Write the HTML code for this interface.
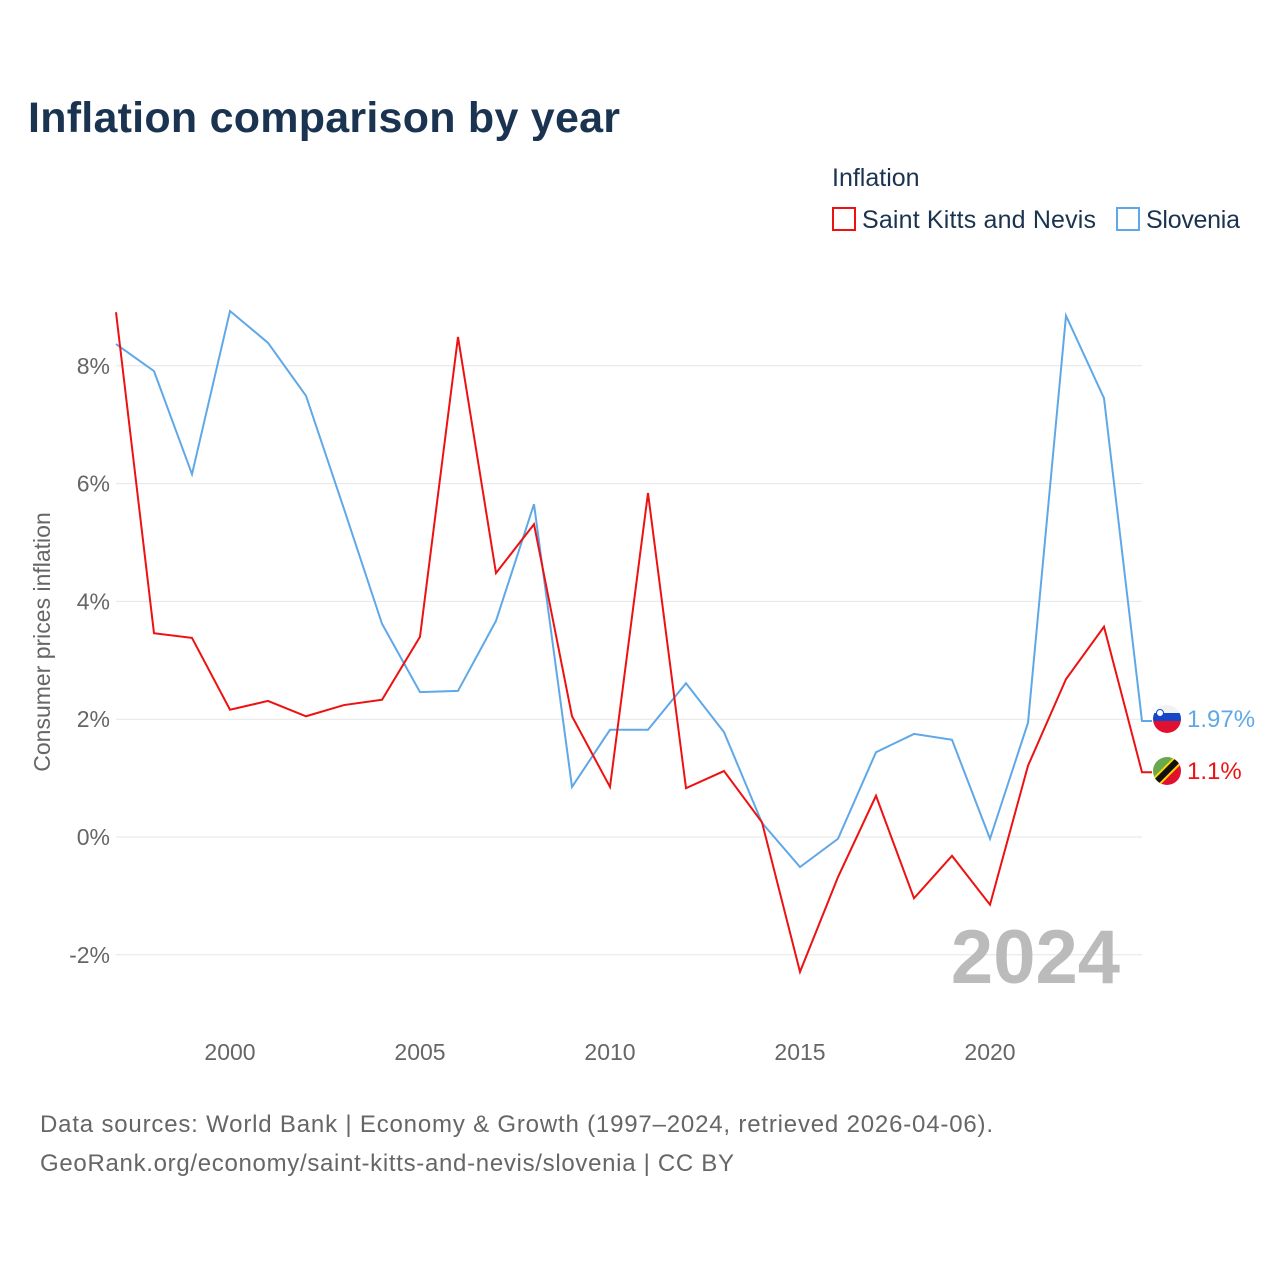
<!DOCTYPE html>
<html><head><meta charset="utf-8"><style>
body{margin:0;background:#fff;font-family:"Liberation Sans",sans-serif}
</style></head><body>
<svg width="1280" height="1280" xmlns="http://www.w3.org/2000/svg" font-family="Liberation Sans, sans-serif">
<text x="28" y="132" font-size="43" font-weight="bold" fill="#1a3350" textLength="592">Inflation comparison by year</text>
<text x="832" y="186" font-size="25" fill="#1a3350">Inflation</text>
<g><rect x="833" y="208" width="22" height="22" fill="#fff" stroke="#ee1111" stroke-width="2"/><text x="862" y="228" font-size="25" fill="#1a3350" textLength="234">Saint Kitts and Nevis</text></g>
<g><rect x="1117" y="208" width="22" height="22" fill="#fff" stroke="#5fa8e8" stroke-width="2"/><text x="1146" y="228" font-size="25" fill="#1a3350" textLength="94">Slovenia</text></g>
<text transform="translate(50,642) rotate(-90)" text-anchor="middle" font-size="23" fill="#666">Consumer prices inflation</text>
<g id="grid"></g><g id="xt"></g>
<text x="1120" y="983" text-anchor="end" font-size="76" font-weight="bold" fill="#bbb">2024</text>
<g id="lines"></g>
<g><clipPath id="c1"><circle cx="1167" cy="719" r="14"/></clipPath><g clip-path="url(#c1)"><rect x="1150" y="700" width="34" height="13" fill="#f2f2f2"/><rect x="1150" y="713" width="34" height="8" fill="#1646c8"/><rect x="1150" y="721" width="34" height="14" fill="#e0102e"/><circle cx="1160" cy="713" r="3.5" fill="#fff" stroke="#1646c8" stroke-width="1"/></g></g>
<g><clipPath id="c2"><circle cx="1167" cy="771" r="14"/></clipPath><g clip-path="url(#c2)"><polygon points="1150,754 1184,754 1150,788" fill="#6aa84f"/><polygon points="1184,754 1184,788 1150,788" fill="#e0102e"/><line x1="1184" y1="754" x2="1150" y2="788" stroke="#ffd700" stroke-width="10"/><line x1="1184" y1="754" x2="1150" y2="788" stroke="#111" stroke-width="6"/></g></g>
<text x="1187" y="727" font-size="24" fill="#5fa8e8">1.97%</text>
<text x="1187" y="779" font-size="24" fill="#ee1111">1.1%</text>
<text x="40" y="1132" font-size="24" fill="#666" textLength="953">Data sources: World Bank | Economy &amp; Growth (1997–2024, retrieved 2026-04-06).</text>
<text x="40" y="1171" font-size="24" fill="#666" textLength="694">GeoRank.org/economy/saint-kitts-and-nevis/slovenia | CC BY</text>
</svg>
<script>
const years=[1997,1998,1999,2000,2001,2002,2003,2004,2005,2006,2007,2008,2009,2010,2011,2012,2013,2014,2015,2016,2017,2018,2019,2020,2021,2022,2023,2024];
const skn=[8.91,3.46,3.38,2.16,2.31,2.05,2.24,2.33,3.40,8.49,4.48,5.31,2.05,0.85,5.84,0.83,1.12,0.25,-2.29,-0.68,0.70,-1.04,-0.32,-1.15,1.21,2.68,3.57,1.1];
const slovenia=[8.37,7.91,6.16,8.93,8.39,7.49,5.57,3.62,2.46,2.48,3.67,5.65,0.85,1.82,1.82,2.61,1.78,0.24,-0.51,-0.03,1.44,1.75,1.65,-0.03,1.94,8.85,7.45,1.97];
const yTicks=[-2,0,2,4,6,8];
const xTicks=[2000,2005,2010,2015,2020];
const NS='http://www.w3.org/2000/svg';
const X=y=>116+(y-1997)*38, Y=v=>837-v*58.9;
const grid=document.getElementById('grid');
yTicks.forEach(t=>{
 const l=document.createElementNS(NS,'line');
 l.setAttribute('x1',116);l.setAttribute('x2',1142);l.setAttribute('y1',Y(t));l.setAttribute('y2',Y(t));
 l.setAttribute('stroke','#e6e6e6');
 
 
 grid.appendChild(l);
 const tx=document.createElementNS(NS,'text');
 tx.setAttribute('x',110);tx.setAttribute('y',Y(t)+8);tx.setAttribute('text-anchor','end');
 tx.setAttribute('font-size','23');tx.setAttribute('fill','#666');tx.textContent=t+'%';
 
 
 grid.appendChild(tx);
});
const xt=document.getElementById('xt');
xTicks.forEach(t=>{
 const tx=document.createElementNS(NS,'text');
 tx.setAttribute('x',X(t));tx.setAttribute('y',1060);tx.setAttribute('text-anchor','middle');
 tx.setAttribute('font-size','23');tx.setAttribute('fill','#666');tx.textContent=t;
 
 
 xt.appendChild(tx);
});
const lines=document.getElementById('lines');
function draw(vals,color,name){
 let d=vals.map((v,i)=>(i?'L':'M')+X(years[i])+','+Y(v)).join(' ');
 d+=' L'+(X(years[years.length-1])+10)+','+Y(vals[vals.length-1]);
 const p=document.createElementNS(NS,'path');
 p.setAttribute('d',d);p.setAttribute('fill','none');p.setAttribute('stroke',color);p.setAttribute('stroke-width','2');
 
 
 lines.appendChild(p);
}
draw(slovenia,'#5fa8e8','line-slovenia');
draw(skn,'#ee1111','line-skn');
</script>
</body></html>
